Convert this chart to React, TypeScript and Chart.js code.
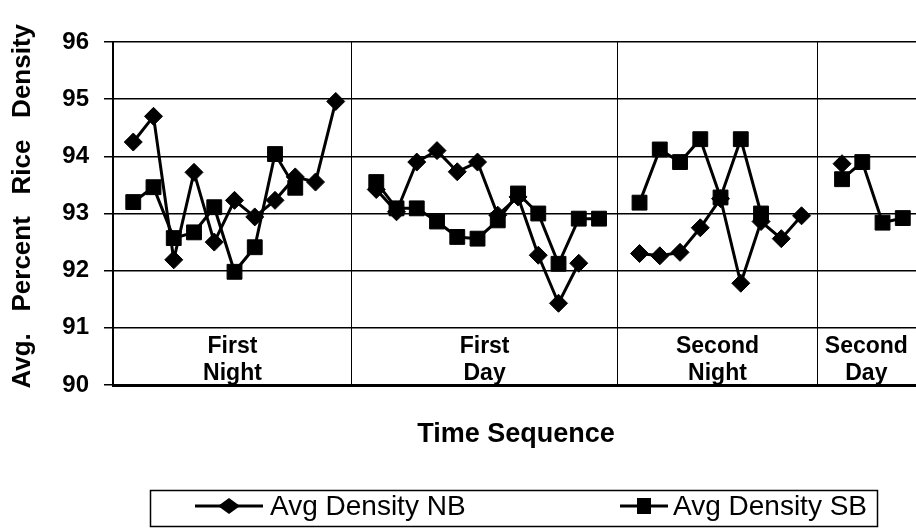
import React, { useEffect, useRef } from 'react';
import { Chart, registerables } from 'chart.js';

Chart.register(...registerables);

const FONT = '"Liberation Sans", Arial, Helvetica, sans-serif';

// Time sequence positions are the array indices (index 0 is the empty left edge)
const NB: (number | null)[] = [
  null,
  94.25, 94.7, 92.19, 93.72, 92.5, 93.23, 92.94, 93.23, 93.64, 93.55, 94.96,
  null,
  93.42, 93.03, 93.9, 94.1, 93.73, 93.9, 92.97, 93.29, 92.27, 91.43, 92.13, null,
  null,
  92.3, 92.26, 92.32, 92.75, 93.26, 91.78, 92.86, 92.56, 92.96,
  null,
  93.87, null, null, null,
];

const SB: (number | null)[] = [
  null,
  93.2, 93.46, 92.57, 92.67, 93.11, 91.98, 92.41, 94.04, 93.45, null, null,
  null,
  93.55, 93.09, 93.09, 92.86, 92.59, 92.56, 92.88, 93.35, 93.0, 92.12, 92.91, 92.91,
  null,
  93.19, 94.12, 93.9, 94.3, 93.28, 94.3, 93.0, null, null,
  null,
  93.6, 93.9, 92.84, 92.92,
];

const SERIES_NAMES = ['Avg Density NB', 'Avg Density SB'];
const SECTION_NAMES = [
  ['First', 'Night'],
  ['First', 'Day'],
  ['Second', 'Night'],
  ['Second', 'Day'],
];
const SECTION_BOUNDS = [0, 11.8, 24.9, 34.8, 39.6];
const DIVIDERS = [11.8, 24.9, 34.8];
const Y_MIN = 90;
const Y_MAX = 96;
const X_MAX = 39.8;
const Y_TITLE = '  Avg.   Percent   Rice   Density';
const X_TITLE = 'Time Sequence';

function drawDiamond(ctx: CanvasRenderingContext2D, x: number, y: number, rx: number, ry: number) {
  ctx.beginPath();
  ctx.moveTo(x, y - ry);
  ctx.lineTo(x + rx, y);
  ctx.lineTo(x, y + ry);
  ctx.lineTo(x - rx, y);
  ctx.closePath();
  ctx.fill();
}

const sectionPlugin = {
  id: 'sectionLabels',
  afterDraw(chart: any) {
    const { ctx, scales } = chart;
    const x = scales.x;
    const y = scales.y;
    ctx.save();
    ctx.font = `bold 23px ${FONT}`;
    ctx.fillStyle = '#000';
    ctx.textAlign = 'center';
    ctx.textBaseline = 'alphabetic';
    const base = y.getPixelForValue(Y_MIN);
    SECTION_NAMES.forEach((lines, i) => {
      const cx = (x.getPixelForValue(SECTION_BOUNDS[i]) + x.getPixelForValue(SECTION_BOUNDS[i + 1])) / 2;
      ctx.fillText(lines[0], cx, base - 32);
      ctx.fillText(lines[1], cx, base - 5);
    });
    ctx.restore();
  },
};

const legendPlugin = {
  id: 'boxLegend',
  afterDraw(chart: any) {
    const ctx: CanvasRenderingContext2D = chart.ctx;
    ctx.save();
    ctx.strokeStyle = '#000';
    ctx.lineWidth = 1.5;
    ctx.strokeRect(150.5, 490.5, 727, 36);
    const cy = 506;
    const items = [
      { from: 195, to: 263, mx: 229, tx: 270, kind: 'diamond' },
      { from: 620, to: 668, mx: 644, tx: 673, kind: 'square' },
    ];
    ctx.font = `28px ${FONT}`;
    ctx.textBaseline = 'middle';
    ctx.textAlign = 'left';
    ctx.fillStyle = '#000';
    items.forEach((it, i) => {
      ctx.lineWidth = 3;
      ctx.beginPath();
      ctx.moveTo(it.from, cy);
      ctx.lineTo(it.to, cy);
      ctx.stroke();
      if (it.kind === 'diamond') {
        drawDiamond(ctx, it.mx, cy, 11, 8);
      } else {
        ctx.fillRect(it.mx - 7, cy - 8, 14, 16);
      }
      ctx.fillText(chart.data.datasets[i].label, it.tx, cy + 1);
    });
    ctx.restore();
  },
};

export default function App() {
  const canvasRef = useRef<HTMLCanvasElement | null>(null);

  useEffect(() => {
    const canvas = canvasRef.current;
    if (!canvas) return;
    Chart.defaults.font.family = FONT;
    const chart = new Chart(canvas, {
      type: 'line',
      data: {
        datasets: [
          {
            label: SERIES_NAMES[0],
            data: NB.map((v, i) => ({ x: i, y: v })),
            borderColor: '#000',
            backgroundColor: '#000',
            borderWidth: 3,
            pointStyle: 'rectRot',
            pointRadius: 9,
            pointBorderWidth: 1,
            pointBackgroundColor: '#000',
            pointBorderColor: '#000',
            tension: 0,
            spanGaps: false,
          },
          {
            label: SERIES_NAMES[1],
            data: SB.map((v, i) => ({ x: i, y: v })),
            borderColor: '#000',
            backgroundColor: '#000',
            borderWidth: 3,
            pointStyle: 'rect',
            pointRadius: 10.5,
            pointBorderWidth: 1,
            pointBackgroundColor: '#000',
            pointBorderColor: '#000',
            tension: 0,
            spanGaps: false,
          },
        ],
      },
      options: {
        animation: false,
        responsive: false,
        maintainAspectRatio: false,
        devicePixelRatio: 1,
        layout: { autoPadding: false, padding: { top: 42, left: 0, right: 1, bottom: 63 } },
        plugins: {
          legend: { display: false },
          tooltip: { enabled: false },
          title: { display: false },
        },
        scales: {
          x: {
            type: 'linear',
            min: 0,
            max: X_MAX,
            ticks: { display: false },
            afterBuildTicks: (s: any) => {
              s.ticks = DIVIDERS.map((v) => ({ value: v }));
            },
            afterFit: (s: any) => {
              s.height = 80;
            },
            grid: { color: '#000', lineWidth: 1, drawTicks: false },
            border: { display: true, color: '#000', width: 3 },
            title: {
              display: true,
              text: X_TITLE,
              color: '#000',
              font: { size: 27, weight: 'bold', family: FONT },
              padding: { top: 0, bottom: 14 },
            },
          },
          y: {
            type: 'linear',
            min: Y_MIN,
            max: Y_MAX,
            ticks: {
              stepSize: 1,
              color: '#000',
              font: { size: 24, weight: 'bold', family: FONT },
              padding: 15,
            },
            afterFit: (s: any) => {
              s.width = 113;
            },
            grid: { color: '#000', lineWidth: 1.5, tickLength: 9 },
            border: { display: true, color: '#000', width: 2 },
            title: {
              display: true,
              text: Y_TITLE,
              color: '#000',
              font: { size: 26, weight: 'bold', family: FONT },
              padding: { top: 7, bottom: 0 },
            },
          },
        },
      },
      plugins: [sectionPlugin, legendPlugin],
    } as any);
    return () => chart.destroy();
  }, []);

  return (
    <div
      style={{
        position: 'fixed',
        left: 0,
        top: 0,
        width: 916,
        height: 528,
        overflow: 'hidden',
        background: '#fff',
      }}
    >
      <canvas ref={canvasRef} width={920} height={528} style={{ display: 'block' }} />
    </div>
  );
}
